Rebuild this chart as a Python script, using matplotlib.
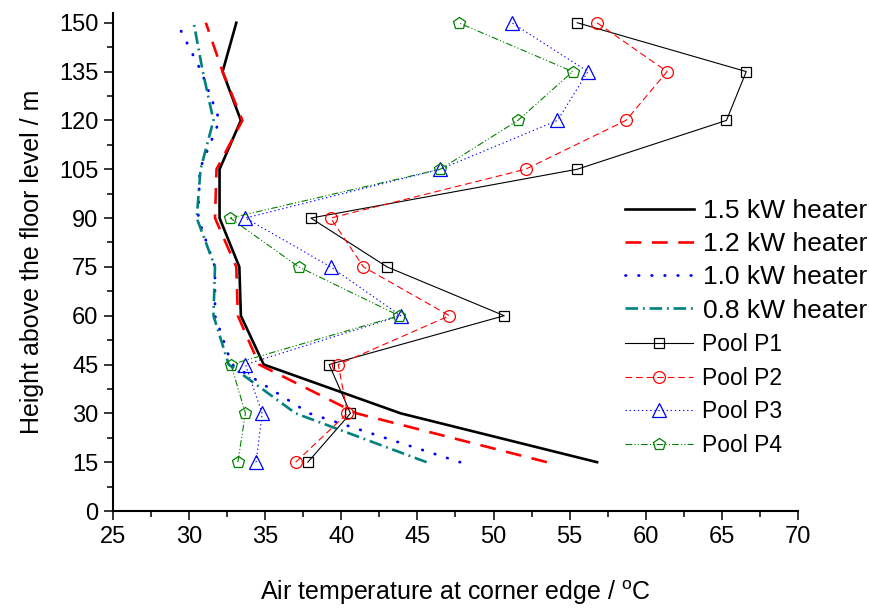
import numpy as np
import matplotlib
matplotlib.use('Agg')
import matplotlib.pyplot as plt

plt.rcParams['font.family'] = ['Liberation Sans', 'DejaVu Sans']
plt.rcParams['mathtext.fontset'] = 'custom'
plt.rcParams['mathtext.rm'] = 'Liberation Sans'

# heights of the readings / m
heights = [15, 30, 45, 60, 75, 90, 105, 120, 135, 150]

# heater profiles (air temperature / C)
heater_15 = [56.8, 43.9, 34.9, 33.4, 33.3, 32.0, 32.0, 33.4, 32.2, 33.1]
heater_12 = [53.5, 41.0, 34.6, 33.2, 33.1, 31.7, 31.8, 33.5, 32.2, 31.1]
heater_10 = [47.8, 37.9, 32.8, 31.7, 31.7, 30.6, 30.7, 32.0, 30.8, 29.2]
heater_08 = [45.6, 37.0, 32.6, 31.6, 31.7, 30.5, 30.75, 31.6, 30.9, 30.3]

# pool fire measurements
pool_p1 = [37.8, 40.6, 39.2, 50.7, 43.0, 38.0, 55.5, 65.3, 66.6, 55.5]
pool_p2 = [37.0, 40.4, 39.8, 47.1, 41.45, 39.3, 52.1, 58.7, 61.4, 56.8]
pool_p3 = [34.4, 34.8, 33.7, 43.9, 39.3, 33.7, 46.5, 54.2, 56.2, 51.2]
pool_p4 = [33.2, 33.7, 32.75, 43.8, 37.2, 32.7, 46.5, 51.6, 55.2, 47.7]

fig = plt.figure(figsize=(8.7, 6.1), dpi=100)
ax = fig.add_axes([113/870, 99/610, 685/870, 498/610])

# heaters
h1, = ax.plot(heater_15, heights, color='black', lw=1.9, label='1.5 kW heater')
h2, = ax.plot(heater_12, heights, color='red', lw=1.9, ls=(0, (6, 4)), label='1.2 kW heater')
h3, = ax.plot(heater_10, heights, color='blue', lw=2.0, ls=(0, (0.2, 4.5)),
              dash_capstyle='round', label='1.0 kW heater')
h4, = ax.plot(heater_08, heights, color='#008080', lw=1.9, ls=(0, (4.8, 1.8, 0.7, 1.8)),
              label='0.8 kW heater')

# pools
mkw = dict(mfc='none', mew=0.9, lw=0.8)
p1, = ax.plot(pool_p1, heights, color='black', marker='s', ms=7.5, label='Pool P1', **mkw)
p2, = ax.plot(pool_p2, heights, color='red', marker='o', ms=8.5, ls=(0, (6, 3.5)),
              label='Pool P2', **mkw)
p3, = ax.plot(pool_p3, heights, color='blue', marker='^', ms=9.5, ls=(0, (1.2, 2.5)),
              label='Pool P3', **mkw)
p4, = ax.plot(pool_p4, heights, color='green', marker='p', ms=9, ls=(0, (6, 2, 1, 2, 1, 2)),
              label='Pool P4', **mkw)

ax.set_xlim(25, 70)
ax.set_ylim(0, 153)
ax.set_xticks(np.arange(25, 71, 5))
ax.set_yticks(np.arange(0, 151, 15))
ax.set_xticks(np.arange(27.5, 70, 5), minor=True)
ax.set_yticks(np.arange(7.5, 150, 15), minor=True)

for s in ['top', 'right']:
    ax.spines[s].set_visible(False)
for s in ['left', 'bottom']:
    ax.spines[s].set_linewidth(1.5)
ax.tick_params(which='major', direction='out', length=6.5, width=1.1,
               labelsize=17, pad=4)
ax.tick_params(which='minor', direction='out', length=4, width=1.1)

ax.set_xlabel('Air temperature at corner edge / $^{\\mathrm{o}}$C', fontsize=18, labelpad=22)
ax.set_ylabel('Height above the floor level / m', fontsize=18, labelpad=11)

# two legends so each block keeps its own text size
leg1 = ax.legend(handles=[h1, h2, h3, h4], loc='upper left',
                 bbox_to_anchor=(625/870, 1 - 199/610), bbox_transform=fig.transFigure,
                 frameon=False, fontsize=19, handlelength=2.6, handletextpad=0.35,
                 labelspacing=0.35, borderpad=0, borderaxespad=0)
ax.add_artist(leg1)
leg2 = ax.legend(handles=[p1, p2, p3, p4], loc='upper left',
                 bbox_to_anchor=(625/870, 1 - 333/610), bbox_transform=fig.transFigure,
                 frameon=False, fontsize=16.5, handlelength=2.95, handletextpad=0.4,
                 labelspacing=0.46, borderpad=0, borderaxespad=0)

fig.savefig('out.png', dpi=100)
